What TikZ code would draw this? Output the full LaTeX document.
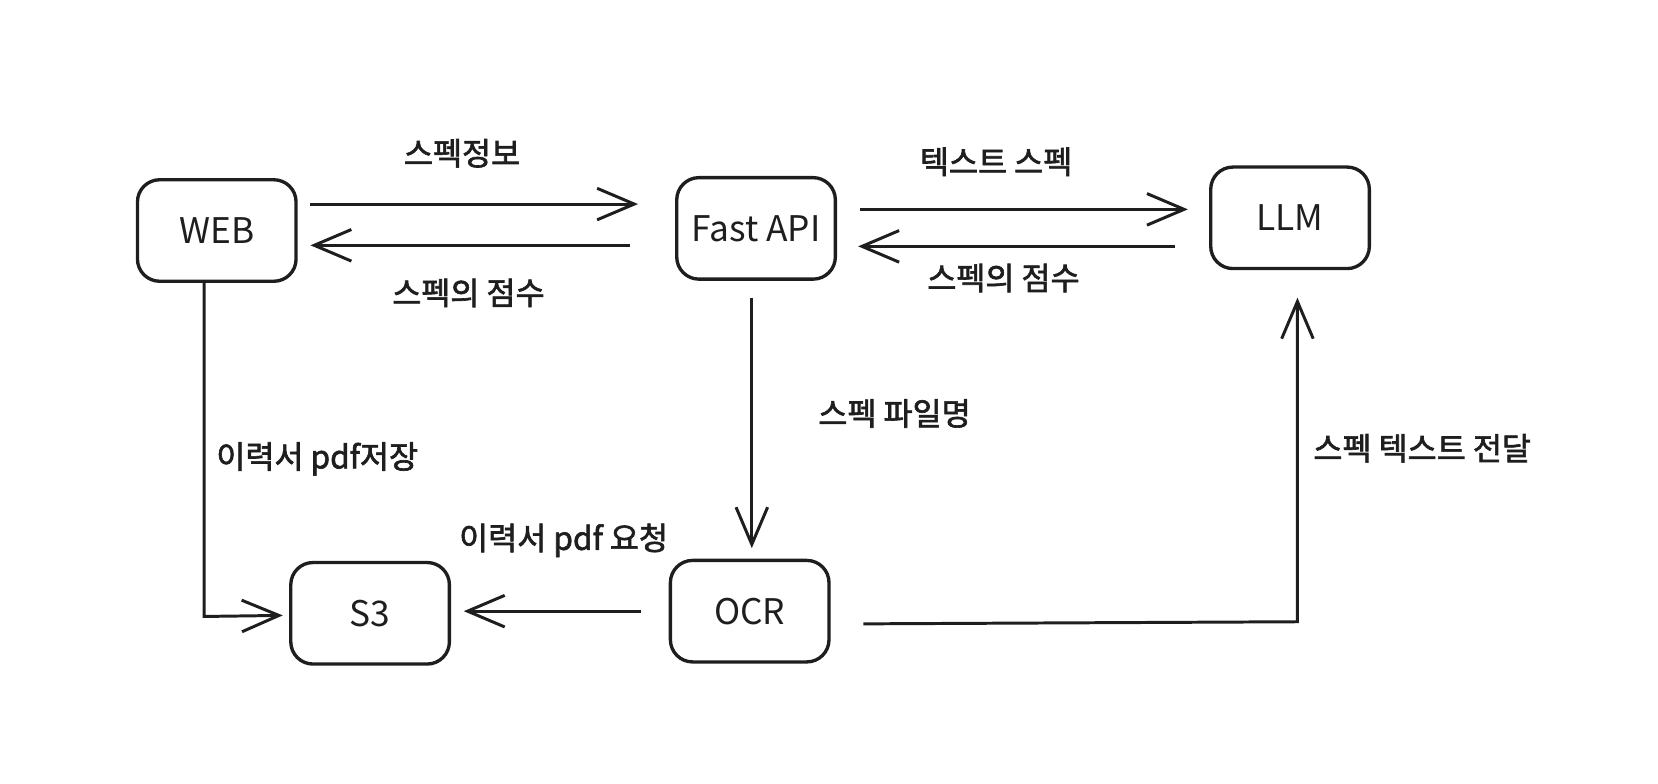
\documentclass[tikz,border=0pt]{standalone}
\usepackage{fontspec}
\setmainfont{Noto Sans CJK KR}
\newfontfamily\labfont{Noto Sans CJK KR}[FakeBold=2]
\usetikzlibrary{arrows.meta}
\definecolor{ink}{HTML}{1E1E1E}
\begin{document}
\begin{tikzpicture}[x=0.02cm,y=-0.02cm,
  box/.style={draw=ink, text=ink, line width=1.8pt, rounded corners=0.42cm, minimum width=150*0.02cm, minimum height=96*0.02cm, inner sep=0pt, font=\fontsize{19}{21}\selectfont},
  conn/.style={draw=ink, line width=1.6pt, -{Straight Barb[length=20pt,width=17pt,line width=1.6pt]}},
  lab/.style={font=\labfont\fontsize{17}{19}\selectfont, text=ink, inner sep=0pt}]
\useasboundingbox (0,0) rectangle (1568,741.4);
\node[box] (web) at (205,218) {WEB};
\node[box] (api) at (715,216) {Fast API};
\node[box] (llm) at (1220,206) {LLM};
\node[box] (s3) at (350,580) {S3};
\node[box] (ocr) at (709,578) {OCR};
% WEB <-> API
\draw[conn] ([shift={(12,-25)}]web.east) -- ([shift={(-35,-23)}]api.west);
\draw[conn] ([shift={(-43,16)}]api.west) -- ([shift={(12,14)}]web.east);
\node[lab] (l1) at (437,145) {스펙정보};
\node[lab] (l2) at (443,277) {스펙의 점수};
% API <-> LLM
\draw[conn] ([shift={(22,-18)}]api.east) -- ([shift={(-20,-8)}]llm.west);
\draw[conn] ([shift={(-32,27)}]llm.west) -- ([shift={(20,17)}]api.east);
\node[lab] (l3) at (942,153) {텍스트 스펙};
\node[lab] (l4) at (949,263) {스펙의 점수};
% API -> OCR
\draw[conn] ([shift={(-4,16)}]api.south) -- ([shift={(2,-10)}]ocr.north);
\node[lab] (l5) at (846,391) {스펙 파일명};
% WEB -> S3
\coordinate (w2) at (193,583);
\draw[conn] ([shift={(-12,0)}]web.south) -- (w2) -- ([shift={(-6,2)}]s3.west);
\node[lab] (l6) at (300,434) {이력서 pdf저장};
% OCR -> S3
\draw[conn] ([shift={(-26,0)}]ocr.west) -- ([shift={(12,-2)}]s3.east);
\node[lab] (l7) at (533,511) {이력서 pdf 요청};
% OCR -> LLM
\coordinate (p2) at (1227,588);
\draw[conn] ([shift={(31,12)}]ocr.east) -- (p2) -- ([shift={(7,26)}]llm.south);
\node[lab] (l8) at (1345,424) {스펙 텍스트 전달};
\end{tikzpicture}
\end{document}
